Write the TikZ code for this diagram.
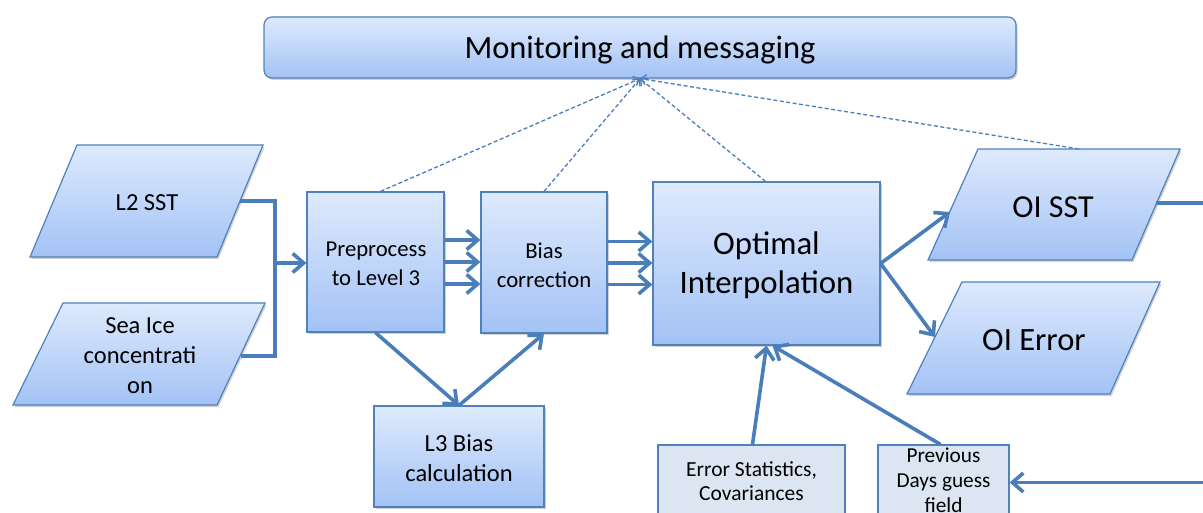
\documentclass[tikz,border=0pt]{standalone}
\usepackage{fontspec}
\setmainfont{Carlito}
\usetikzlibrary{arrows.meta,shadows,calc}
\definecolor{bord}{HTML}{4F81BD}
\definecolor{arrc}{HTML}{4A7EBB}
\definecolor{gtop}{HTML}{DEEAFD}
\definecolor{gbot}{HTML}{A3C2F5}
\definecolor{flat}{HTML}{DCE6F2}
\begin{document}
\begin{tikzpicture}[x=1pt,y=-1pt,
  shd/.style={drop shadow={shadow xshift=1.5pt,shadow yshift=-2pt,opacity=.25,fill=black!70}},
  box/.style={draw=bord, line width=1.2pt, top color=gtop, bottom color=gbot, inner sep=0pt, shd},
  flatbox/.style={draw=bord, line width=1.2pt, fill=flat, inner sep=0pt},
  para/.style={draw=bord, line width=1.2pt, top color=gtop, bottom color=gbot, shd},
  txt/.style={inner sep=0pt, align=center},
  arr/.style={draw=arrc, line width=3.6pt, -{Straight Barb[length=11pt,width=19pt]}},
  conn/.style={draw=arrc, line width=3.6pt},
  dsh/.style={draw=arrc, line width=1.3pt, dash pattern=on 4pt off 2.5pt, -{Straight Barb[length=5pt,width=10pt]}}
]
\useasboundingbox (0,0) rectangle (1203,513);
\clip (0,0) rectangle (1203,513);

% top box
\node[box, rounded corners=8pt, minimum width=752pt, minimum height=61pt] (mon) at (640,47.5) {};
\node[txt, font=\fontsize{32.5}{38}\selectfont] (mont) at (640,50) {Monitoring and messaging};

% rectangles
\node[box, minimum width=137pt, minimum height=140pt] (pre) at (375.5,262) {};
\node[txt, font=\fontsize{22.7}{29}\selectfont] (pret) at (376,264) {Preprocess\\to Level 3};
\node[box, minimum width=126pt, minimum height=141pt] (bias) at (544,262.5) {};
\node[txt, font=\fontsize{22.7}{29}\selectfont] (biast) at (544,265) {Bias\\correction};
\node[box, minimum width=227pt, minimum height=163pt] (oi) at (766.5,263.5) {};
\node[txt, font=\fontsize{32.8}{39}\selectfont] (oit) at (766.5,265.5) {Optimal\\Interpolation};
\node[box, minimum width=170pt, minimum height=101pt] (l3) at (459,456.5) {};
\node[txt, font=\fontsize{24.5}{30}\selectfont] (l3t) at (459,458) {L3 Bias\\calculation};
\node[flatbox, minimum width=187pt, minimum height=75pt] (es) at (751.5,482.5) {};
\node[txt, font=\fontsize{21.5}{24}\selectfont] (est) at (751.5,481.5) {Error Statistics,\\Covariances};
\node[flatbox, minimum width=131pt, minimum height=75pt] (prev) at (943.5,482.5) {};
\node[txt, font=\fontsize{21.3}{25}\selectfont] (prevt) at (943.5,480.5) {Previous\\Days guess\\field};

% parallelograms
\path[para] (77,145) -- (263,145) -- (217,257) -- (30,257) -- cycle;
\node[txt, font=\fontsize{24.5}{30}\selectfont] (l2) at (147,203) {L2 SST};
\coordinate (l2r) at (240,201);

\path[para] (63,303) -- (265,303) -- (217,405) -- (13,405) -- cycle;
\node[txt, font=\fontsize{24.5}{30}\selectfont] (sea) at (140,356) {Sea Ice\\concentrati\\on};
\coordinate (sear) at (241,356);

\path[para] (978,149) -- (1180,149) -- (1132,260) -- (928,260) -- cycle;
\node[txt, font=\fontsize{32}{37}\selectfont] (sst) at (1053,207) {OI SST};
\coordinate (sstl) at (950,212);
\coordinate (sstr) at (1156,203);
\coordinate (ssttop) at (1079,149);

\path[para] (962,282) -- (1160,282) -- (1110,394) -- (907,394) -- cycle;
\node[txt, font=\fontsize{32.5}{37}\selectfont] (err) at (1034,340) {OI Error};
\coordinate (errl) at (935,337);

\coordinate (jn) at (275,263);
\coordinate (rt1) at (1210,203);
\coordinate (rt2) at (1210,482.5);

% connectors
\draw[conn] (l2r) -| (jn) |- (sear);
\draw[arr] (jn) -- (jn -| pre.west);

\foreach \s in {22,0,-22}{
  \draw[arr] ([yshift=\s pt]pre.east) -- ([yshift=\s pt]pre.east -| bias.west);
}
\foreach \s in {21,-0.5,-22}{
  \draw[arr] ([yshift=\s pt]bias.east) -- ([yshift=\s pt]bias.east -| oi.west);
}
\draw[arr] (pre.south) -- (l3.north);
\draw[arr] (l3.north) -- (bias.south);
\draw[arr] (oi.east) -- (sstl);
\draw[arr] (oi.east) -- (errl);
\draw[conn] (sstr) -- (rt1);
\draw[arr] (rt2) -- (prev.east);
\draw[arr] ([xshift=1pt]es.north) -- (oi.south);
\draw[arr] ([xshift=-3pt]prev.north) -- ([xshift=6pt]oi.south);

% dashed monitoring links
\draw[dsh] ([xshift=5pt]pre.north) -- (mon.south);
\draw[dsh] (bias.north) -- (mon.south);
\draw[dsh] ([xshift=-1pt]oi.north) -- (mon.south);
\draw[dsh] (ssttop) -- (mon.south);
\end{tikzpicture}
\end{document}
